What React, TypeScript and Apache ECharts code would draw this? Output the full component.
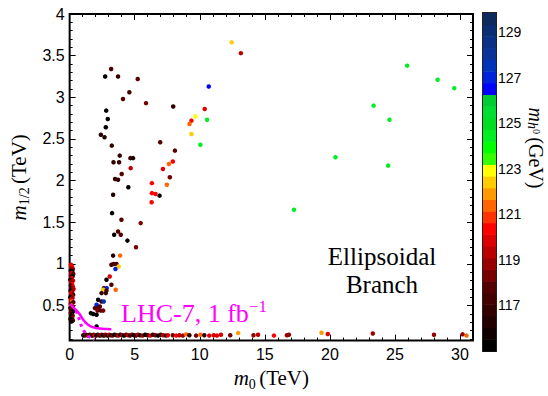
import React, { useEffect, useRef } from 'react';
import * as echarts from 'echarts';

// [m0 (TeV), m1/2 (TeV), mh (GeV)]
const stripPoints: [number, number, number][] = [
  [0.10, 0.99, 119.8], [0.18, 0.97, 120.3], [0.12, 0.95, 119.5], [0.25, 0.94, 118.8], [0.08, 0.92, 116.0],
  [0.20, 0.91, 115.3], [0.15, 0.89, 119.9], [0.28, 0.88, 117.8], [0.10, 0.86, 118.3], [0.22, 0.85, 115.3],
  [0.16, 0.83, 119.7], [0.05, 0.81, 117.0], [0.26, 0.80, 119.3], [0.12, 0.78, 118.8], [0.19, 0.76, 120.4],
  [0.09, 0.74, 116.5], [0.24, 0.73, 119.7], [0.14, 0.71, 117.8], [0.30, 0.70, 119.3], [0.07, 0.68, 115.3],
  [0.20, 0.67, 118.8], [0.12, 0.65, 119.9], [0.27, 0.63, 117.2], [0.16, 0.62, 119.4], [0.05, 0.60, 116.0],
  [0.22, 0.59, 118.9], [0.11, 0.57, 119.7], [0.18, 0.55, 121.4], [0.28, 0.54, 117.8], [0.09, 0.52, 118.3],
  [0.15, 0.50, 121.9], [0.24, 0.49, 119.3], [0.06, 0.47, 116.5], [0.19, 0.46, 118.8], [0.12, 0.44, 117.2],
  [0.27, 0.43, 115.3], [0.08, 0.41, 118.3], [0.17, 0.40, 116.0], [0.23, 0.38, 117.8], [0.11, 0.36, 115.3],
  [0.20, 0.35, 118.8], [0.06, 0.34, 116.5], [0.15, 0.33, 115.3], [0.25, 0.32, 117.2], [0.13, 0.31, 116.0],
];

const branchPoints: [number, number, number][] = [
  [3.19, 3.34, 117.2], [2.73, 3.25, 115.3], [3.72, 3.25, 116.8], [5.23, 3.22, 117.8], [4.59, 3.06, 117.2],
  [4.10, 2.98, 117.8], [5.87, 2.93, 118.3], [7.96, 2.89, 116.8], [2.81, 2.84, 115.3], [2.93, 2.74, 115.2],
  [2.78, 2.64, 115.3], [2.40, 2.55, 116.3], [2.68, 2.52, 116.3], [3.24, 2.42, 116.8], [6.96, 2.46, 117.8],
  [8.09, 2.36, 117.8], [3.85, 2.30, 116.8], [3.37, 2.22, 116.8], [3.80, 2.22, 116.8], [4.67, 2.27, 116.8],
  [4.87, 2.27, 116.3], [4.69, 2.15, 119.4], [4.00, 2.08, 117.8], [3.49, 2.02, 116.8], [3.72, 2.01, 116.8],
  [4.51, 1.92, 115.3], [3.34, 1.83, 116.3], [6.91, 1.82, 115.3], [3.26, 1.61, 115.3], [3.98, 1.53, 117.8],
  [5.46, 1.49, 118.3], [3.72, 1.39, 117.8], [3.93, 1.35, 117.8], [3.42, 1.35, 115.3], [4.44, 1.28, 115.3],
  [5.10, 1.20, 118.3], [3.34, 1.10, 116.3], [3.88, 1.10, 121.4], [3.21, 0.99, 117.2], [3.39, 1.00, 117.2],
  [3.60, 1.00, 117.8], [3.77, 0.97, 122.5], [3.52, 0.94, 126.9], [3.08, 0.85, 119.8], [2.83, 0.81, 115.3],
  [3.21, 0.75, 117.8], [2.63, 0.71, 117.8], [2.85, 0.71, 127.0], [2.58, 0.69, 122.4], [2.83, 0.68, 117.8],
  [3.54, 0.69, 121.4], [2.45, 0.65, 116.8], [2.78, 0.65, 116.8], [2.19, 0.57, 115.3], [2.45, 0.55, 117.2],
  [2.62, 0.55, 127.5], [2.07, 0.51, 127.0], [2.19, 0.47, 117.8], [1.94, 0.47, 117.8], [2.32, 0.49, 117.8],
  [2.14, 0.44, 118.3], [2.40, 0.44, 117.8], [2.58, 0.44, 118.3], [1.63, 0.41, 115.3], [1.81, 0.40, 115.3],
  [2.07, 0.39, 115.3], [2.07, 0.25, 115.3],
];

const focusPoints: [number, number, number][] = [
  [12.45, 3.66, 122.4], [13.16, 3.53, 119.4], [10.69, 3.13, 126.6], [10.38, 2.86, 119.8], [9.67, 2.77, 122.9],
  [9.36, 2.72, 120.3], [9.21, 2.68, 121.3], [10.56, 2.73, 124.3], [9.36, 2.56, 122.4], [10.05, 2.43, 124.6],
  [7.17, 2.14, 119.9], [7.93, 2.23, 120.3], [7.63, 2.20, 121.2], [7.70, 2.04, 118.3], [7.47, 1.95, 121.3],
  [6.32, 1.97, 120.3], [6.32, 1.85, 120.3], [6.60, 1.84, 120.4], [6.30, 1.74, 120.3],
];

const bottomPoints: [number, number, number][] = [
  [1.05, 0.145, 115.3], [1.15, 0.140, 117.2], [1.25, 0.150, 118.3], [1.35, 0.145, 115.3], [1.45, 0.140, 119.4],
  [1.55, 0.150, 116.3], [1.65, 0.145, 118.8], [1.75, 0.140, 115.3], [1.85, 0.150, 117.8], [1.95, 0.145, 119.7],
  [2.05, 0.140, 116.8], [2.15, 0.150, 115.2], [2.25, 0.145, 118.3], [2.35, 0.140, 117.2], [2.45, 0.150, 119.4],
  [2.55, 0.145, 115.3], [2.65, 0.140, 116.3], [2.75, 0.150, 118.8], [2.85, 0.145, 117.8], [2.95, 0.140, 115.3],
  [3.05, 0.150, 119.7], [3.15, 0.145, 116.8], [3.30, 0.140, 118.3], [3.45, 0.150, 115.3], [3.60, 0.145, 117.2],
  [3.75, 0.140, 119.4], [3.90, 0.150, 116.3], [4.05, 0.145, 118.8], [4.20, 0.140, 115.3], [4.35, 0.150, 117.8],
  [4.50, 0.145, 119.4], [4.65, 0.140, 116.8], [4.80, 0.150, 118.3], [4.95, 0.145, 115.3], [5.10, 0.140, 117.2],
  [5.25, 0.150, 119.4], [5.40, 0.145, 116.3], [5.60, 0.140, 118.8], [5.80, 0.150, 115.3], [6.00, 0.145, 117.8],
  [6.20, 0.140, 119.7], [6.40, 0.150, 116.8], [6.60, 0.145, 118.3], [6.80, 0.140, 115.3], [7.00, 0.150, 117.2],
  [7.20, 0.145, 119.4], [7.40, 0.140, 116.3], [7.55, 0.145, 119.7], [7.93, 0.145, 118.3], [8.19, 0.140, 120.3],
  [8.44, 0.145, 119.4], [8.70, 0.140, 118.8], [8.95, 0.155, 121.4], [9.20, 0.145, 116.8], [9.72, 0.140, 118.3],
  [10.05, 0.150, 121.2], [10.35, 0.145, 116.8], [10.73, 0.140, 119.7], [11.07, 0.145, 119.9], [11.32, 0.140, 119.7],
  [11.63, 0.150, 119.9], [12.34, 0.145, 118.3], [12.95, 0.170, 121.9], [14.13, 0.145, 118.8], [14.48, 0.150, 119.4],
  [15.70, 0.140, 120.4], [16.70, 0.145, 118.8], [16.85, 0.150, 118.9], [19.36, 0.174, 121.9], [19.84, 0.160, 119.7],
  [23.30, 0.165, 118.8], [28.00, 0.150, 118.8], [30.20, 0.155, 118.9], [30.50, 0.140, 121.2],
];

const ellipsoidalPoints: [number, number, number][] = [
  [25.94, 3.38, 124.3], [28.28, 3.21, 124.3], [29.56, 3.11, 124.3], [23.36, 2.90, 124.3],
  [24.58, 2.73, 124.3], [20.43, 2.28, 124.3], [24.48, 2.18, 124.3], [17.24, 1.65, 124.3],
];

const lhcSolid: [number, number][] = [
  [0.05, 0.52], [0.2, 0.49], [0.4, 0.46], [0.6, 0.43], [0.8, 0.39], [1.0, 0.34], [1.2, 0.30],
  [1.45, 0.265], [1.7, 0.245], [2.0, 0.232], [2.5, 0.222], [3.2, 0.215],
];
const lhcDashed: [number, number][] = [
  [0.5, 0.44], [0.7, 0.35], [0.85, 0.28], [1.0, 0.22], [1.2, 0.17], [1.45, 0.13], [1.7, 0.105], [1.9, 0.09],
];

// colour bar bands [low, high, colour] in GeV
const colorBands: [number, number, string][] = [
  [115.00, 115.51, '#000000'], [115.51, 116.02, '#110000'], [116.02, 116.54, '#220000'],
  [116.54, 117.05, '#330000'], [117.05, 117.56, '#440000'], [117.56, 118.07, '#550000'],
  [118.07, 118.58, '#770000'], [118.58, 119.09, '#990000'], [119.09, 119.61, '#bb0000'],
  [119.61, 120.12, '#dd0000'], [120.12, 120.63, '#ff0000'], [120.63, 121.14, '#ff3300'],
  [121.14, 121.65, '#ff6600'], [121.65, 122.16, '#ff9900'], [122.16, 122.68, '#ffcc00'],
  [122.68, 123.19, '#ffff00'], [123.19, 123.70, '#33ff00'], [123.70, 124.21, '#00ff00'],
  [124.21, 124.72, '#00ee22'], [124.72, 125.23, '#00dd22'], [125.23, 125.75, '#00dd33'],
  [125.75, 126.26, '#00cc33'], [126.26, 126.77, '#0000ff'], [126.77, 127.28, '#0022dd'],
  [127.28, 127.79, '#0033bb'], [127.79, 128.30, '#0a3399'], [128.30, 128.82, '#0a3088'],
  [128.82, 129.33, '#0b2d74'], [129.33, 129.84, '#0d2a5e'],
];
const mhTicks = [117, 119, 121, 123, 125, 127, 129];

const xMajor = [0, 5, 10, 15, 20, 25, 30];
const xMinor = [1, 2, 3, 4, 6, 7, 8, 9, 11, 12, 13, 14, 16, 17, 18, 19, 21, 22, 23, 24, 26, 27, 28, 29];
const yMajor = [0.5, 1, 1.5, 2, 2.5, 3, 3.5, 4];
const yMinor = [0.1, 0.2, 0.3, 0.4, 0.6, 0.7, 0.8, 0.9, 1.1, 1.2, 1.3, 1.4, 1.6, 1.7, 1.8, 1.9,
  2.1, 2.2, 2.3, 2.4, 2.6, 2.7, 2.8, 2.9, 3.1, 3.2, 3.3, 3.4, 3.6, 3.7, 3.8, 3.9];

const X_MIN = 0, X_MAX = 31, Y_MIN = 0.08, Y_MAX = 4;

const SANS = 'Liberation Sans';
const SERIF = 'Liberation Serif';

const richTitle = {
  i: { fontFamily: SERIF, fontStyle: 'italic', fontSize: 21, lineHeight: 26, color: '#000' },
  s: { fontFamily: SERIF, fontSize: 14, lineHeight: 10, verticalAlign: 'bottom', color: '#000' },
  r: { fontFamily: SERIF, fontSize: 21, lineHeight: 26, color: '#000' },
};

function tickAxis(kind: 'x' | 'y', position: string, values: number[], len: number, labels: boolean, name?: any) {
  const isX = kind === 'x';
  const ax: any = {
    type: 'value',
    gridIndex: 0,
    position,
    min: isX ? X_MIN : Y_MIN,
    max: isX ? X_MAX : Y_MAX,
    axisLine: { show: false, onZero: false },
    splitLine: { show: false },
    axisTick: { show: true, inside: true, length: len, customValues: values, lineStyle: { color: '#000', width: 1 } },
    axisLabel: labels
      ? { show: true, customValues: values, fontFamily: SANS, fontSize: 16, color: '#000', margin: isX ? 6 : 5 }
      : { show: false },
  };
  if (name) Object.assign(ax, name);
  return ax;
}

export default function App() {
  const ref = useRef<HTMLDivElement>(null);
  useEffect(() => {
    const chart = echarts.init(ref.current!, null, { renderer: 'svg' });
    const allPoints = [...stripPoints, ...branchPoints, ...focusPoints, ...bottomPoints, ...ellipsoidalPoints];
    const option: any = {
      animation: false,
      backgroundColor: '#fff',
      grid: [
        { left: 68, top: 14, width: 405, height: 335, show: true, borderColor: '#000', borderWidth: 2, backgroundColor: 'transparent' },
        { left: 483, top: 13, width: 13, height: 338, show: true, borderColor: '#222', borderWidth: 2, backgroundColor: 'transparent' },
      ],
      xAxis: [
        tickAxis('x', 'bottom', xMajor, 6, true, {
          name: '{i|m}{s|0} {r|(TeV)}', nameLocation: 'middle', nameGap: 22,
          nameTextStyle: { rich: richTitle },
        }),
        tickAxis('x', 'bottom', xMinor, 3, false),
        tickAxis('x', 'top', xMajor, 6, false),
        tickAxis('x', 'top', xMinor, 3, false),
        { type: 'value', gridIndex: 1, min: 0, max: 1, show: false },
      ],
      yAxis: [
        tickAxis('y', 'left', yMajor, 6, true, {
          name: '{i|m}{s|1/2} {r|(TeV)}', nameLocation: 'middle', nameGap: 31,
          nameTextStyle: { rich: richTitle },
        }),
        tickAxis('y', 'left', yMinor, 3, false),
        tickAxis('y', 'right', yMajor, 6, false),
        tickAxis('y', 'right', yMinor, 3, false),
        {
          type: 'value', gridIndex: 1, position: 'right', min: 115, max: 129.84,
          axisLine: { show: false },
          splitLine: { show: false },
          axisTick: { show: true, inside: false, length: 2, customValues: mhTicks, lineStyle: { color: '#000' } },
          axisLabel: { show: true, customValues: mhTicks, fontFamily: SANS, fontSize: 14, color: '#000', margin: 2 },
        },
      ],
      visualMap: {
        type: 'piecewise', show: false, dimension: 2, seriesIndex: 0,
        pieces: colorBands.map(([lo, hi, c]) => ({ gte: lo, lt: hi, color: c })),
      },
      series: [
        {
          type: 'scatter', xAxisIndex: 0, yAxisIndex: 0, data: allPoints, symbolSize: 4.5, z: 2,
          itemStyle: { opacity: 1 },
        },
        {
          type: 'line', xAxisIndex: 0, yAxisIndex: 0, data: lhcSolid, showSymbol: false, z: 3,
          lineStyle: { color: '#ff00ff', width: 2.5 },
        },
        {
          type: 'line', xAxisIndex: 0, yAxisIndex: 0, data: lhcDashed, showSymbol: false, z: 3,
          lineStyle: { color: '#ff00ff', width: 3, type: [3, 4] },
        },
        {
          type: 'custom', xAxisIndex: 4, yAxisIndex: 4,
          data: colorBands.map(([lo, hi]) => [0, lo, hi]),
          encode: { x: 0, y: [1, 2] },
          renderItem: (params: any, api: any) => {
            const lo = api.value(1);
            const hi = api.value(2);
            const p0 = api.coord([0, lo]);
            const p1 = api.coord([1, hi]);
            return {
              type: 'rect',
              shape: { x: p0[0], y: p1[1], width: p1[0] - p0[0], height: p0[1] - p1[1] + 0.5 },
              style: { fill: colorBands[params.dataIndex][2] },
            };
          },
          z: 1,
        },
      ],
      graphic: [
        {
          type: 'text', left: 121, top: 298, z: 10,
          style: {
            text: '{a|LHC-7, 1 fb}{b|\u22121}',
            rich: {
              a: { fontFamily: SERIF, fontSize: 26, lineHeight: 30, fill: '#ff00ff', color: '#ff00ff' },
              b: { fontFamily: SERIF, fontSize: 17, lineHeight: 17, verticalAlign: 'top', fill: '#ff00ff', color: '#ff00ff' },
            },
          },
        },
        {
          type: 'text', x: 382, y: 256, z: 10,
          style: { text: 'Ellipsoidal', fontFamily: SERIF, fontSize: 25, fill: '#000', align: 'center', verticalAlign: 'middle' },
        },
        {
          type: 'text', x: 382, y: 284, z: 10,
          style: { text: 'Branch', fontFamily: SERIF, fontSize: 25, fill: '#000', align: 'center', verticalAlign: 'middle' },
        },
        {
          type: 'text', x: 536, y: 148, rotation: -Math.PI / 2, z: 10,
          style: {
            text: '{i|m}{s|h}{t|0} {r|(GeV)}',
            align: 'center', verticalAlign: 'middle',
            rich: {
              i: { fontFamily: SERIF, fontStyle: 'italic', fontSize: 20, lineHeight: 22, fill: '#000' },
              s: { fontFamily: SERIF, fontStyle: 'italic', fontSize: 14, lineHeight: 9, verticalAlign: 'bottom', fill: '#000' },
              t: { fontFamily: SERIF, fontSize: 10, lineHeight: 12, verticalAlign: 'middle', fill: '#000' },
              r: { fontFamily: SERIF, fontSize: 20, lineHeight: 22, fill: '#000' },
            },
          },
        },
      ],
    };
    chart.setOption(option);
    return () => chart.dispose();
  }, []);
  return <div ref={ref} style={{ position: 'absolute', left: 0, top: 0, width: 548, height: 396 }} />;
}
